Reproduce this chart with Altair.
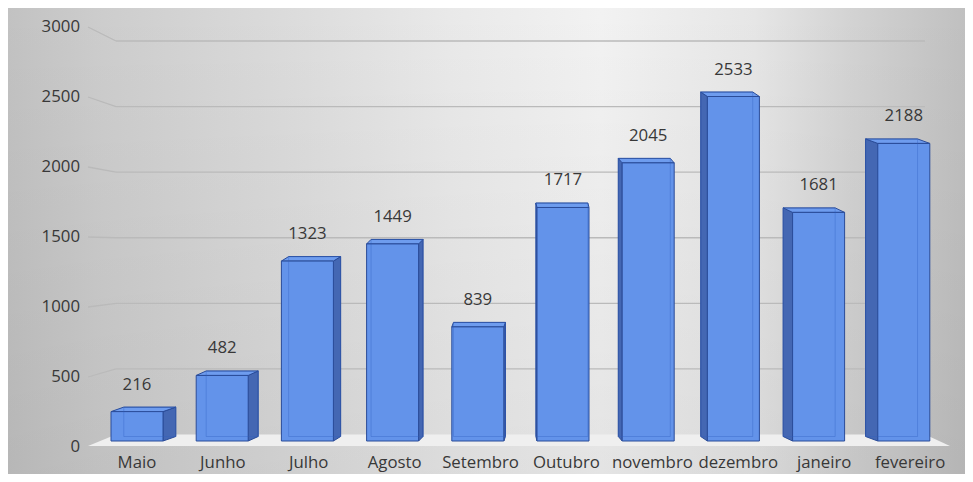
import altair as alt
import pandas as pd

# ---------------- data ----------------
months = ["Maio", "Junho", "Julho", "Agosto", "Setembro", "Outubro",
          "novembro", "dezembro", "janeiro", "fevereiro"]
values = [216, 482, 1323, 1449, 839, 1717, 2045, 2533, 1681, 2188]
y_ticks = [0, 500, 1000, 1500, 2000, 2500, 3000]

# ---------------- layout / style ----------------
PAD_L, PAD_R, PAD_T, PAD_B = 86.4, 18.6, 0, 0
W, H = 852, 466
PX_PER_CAT = W / 10
X_DOM = [-0.5, 9.5]
Y_DOM = [0, 3000]
FRONT_Y = [433, 25]      # front faces of the 3-D bars
GRID_Y = [426.5, 33]     # back wall
LABEL_Y = [439, 19]      # tick labels
LABEL_X = [-0.4, 858.6]  # category labels along the floor front edge
BAR_PX = 52
DEPTH_PX = 4.5
PERSP_PX = 2.78          # horizontal depth shift per category from vanishing point
VANISH = 4.6
FONT = "Open Sans"
FS = 16.8
TXT = "#383838"

FRONT_FILL = "#6393EA"
SIDE_FILL = "#4467B3"
TOP_FILL = "#6E9CEE"
EDGE = "#2A4C99"


def xunit(px):
    return px / PX_PER_CAT - 0.5


def grid_px(v):
    return GRID_Y[0] + (GRID_Y[1] - GRID_Y[0]) * v / Y_DOM[1]


def label_val(px):
    return (px - LABEL_Y[0]) / (LABEL_Y[1] - LABEL_Y[0]) * Y_DOM[1]


def grid_val(px):
    return (px - GRID_Y[0]) / (GRID_Y[1] - GRID_Y[0]) * Y_DOM[1]


half = BAR_PX / 2 / PX_PER_CAT
depth = DEPTH_PX / ((FRONT_Y[0] - FRONT_Y[1]) / Y_DOM[1])

bars = pd.DataFrame({"mes": months, "valor": values, "i": range(len(months))})
bars["left"] = bars["i"] - half
bars["right"] = bars["i"] + half
bars["dx"] = PERSP_PX * (VANISH - bars["i"]) / PX_PER_CAT
bars["bl"] = bars["left"] + bars["dx"]
bars["br"] = bars["right"] + bars["dx"]
bars["bb"] = depth
bars["bt"] = bars["valor"] + depth

side_rows, top_rows = [], []
for _, r in bars.iterrows():
    edge = r["right"] if r["dx"] >= 0 else r["left"]
    side_rows.append({"mes": r["mes"], "x": edge, "lo": 0, "hi": r["valor"]})
    side_rows.append({"mes": r["mes"], "x": edge + r["dx"], "lo": depth, "hi": r["valor"] + depth})
    top_rows.append({"mes": r["mes"], "y": r["valor"], "x": r["left"], "x2": r["right"]})
    top_rows.append({"mes": r["mes"], "y": r["valor"] + depth, "x": r["bl"], "x2": r["br"]})
side = pd.DataFrame(side_rows)
top = pd.DataFrame(top_rows)

ticks = pd.DataFrame({"t": y_ticks})
conn = pd.DataFrame({"t": y_ticks[1:]})
conn["t2"] = [label_val(grid_px(t)) for t in conn["t"]]

floor = pd.DataFrame({
    "y": [0, grid_val(438)],
    "x": [xunit(21.6), xunit(-6.4)],
    "x2": [xunit(830.6), xunit(855.6)],
})

one = pd.DataFrame({"k": [0]})

xf = alt.Scale(domain=X_DOM, range=[0, W])
xl = alt.Scale(domain=X_DOM, range=LABEL_X)
yf = alt.Scale(domain=Y_DOM, range=FRONT_Y)
yg = alt.Scale(domain=Y_DOM, range=GRID_Y)
yl = alt.Scale(domain=Y_DOM, range=LABEL_Y)

# ---------------- layers ----------------
bg = alt.Chart(one).mark_rect(
    fill=alt.Gradient(
        gradient="linear", x1=0, y1=0, x2=1, y2=0,
        stops=[
            alt.GradientStop(color="#c2c2c2", offset=0),
            alt.GradientStop(color="#cdcdcd", offset=0.1),
            alt.GradientStop(color="#dcdcdc", offset=0.3),
            alt.GradientStop(color="#e9e9e9", offset=0.46),
            alt.GradientStop(color="#f2f2f2", offset=0.62),
            alt.GradientStop(color="#e6e6e6", offset=0.78),
            alt.GradientStop(color="#d3d3d3", offset=0.88),
            alt.GradientStop(color="#c0c0c0", offset=1),
        ],
    )
).encode(x=alt.value(-PAD_L), x2=alt.value(W + PAD_R), y=alt.value(0), y2=alt.value(H))

shade = alt.Chart(one).mark_rect(
    fill=alt.Gradient(
        gradient="linear", x1=0, y1=0, x2=0, y2=1,
        stops=[
            alt.GradientStop(color="rgba(0,0,0,0)", offset=0),
            alt.GradientStop(color="rgba(0,0,0,0.06)", offset=1),
        ],
    )
).encode(x=alt.value(-PAD_L), x2=alt.value(W + PAD_R), y=alt.value(0), y2=alt.value(H))

grid = alt.Chart(conn).mark_rule(color="#bababa", strokeWidth=1.3).encode(
    x=alt.value(21.6), x2=alt.value(830.6),
    y=alt.Y("t:Q", scale=yg, axis=None),
)

connectors = alt.Chart(conn).mark_rule(color="#bababa", strokeWidth=1.3).encode(
    x=alt.value(-6.4), x2=alt.value(21.6),
    y=alt.Y("t:Q", scale=yl, axis=None),
    y2="t2:Q",
)

floor_l = alt.Chart(floor).mark_area(orient="horizontal", color="#efefef").encode(
    y=alt.Y("y:Q", scale=yg, axis=None),
    x=alt.X("x:Q", scale=xf, axis=None),
    x2="x2:Q",
)

side_l = alt.Chart(side).mark_area(
    color=SIDE_FILL, stroke=EDGE, strokeWidth=1, opacity=1
).encode(
    x=alt.X("x:Q", scale=xf, axis=None),
    y=alt.Y("hi:Q", scale=yf, axis=None),
    y2="lo:Q",
    detail="mes:N",
)

top_l = alt.Chart(top).mark_area(
    orient="horizontal", color=TOP_FILL, stroke=EDGE, strokeWidth=1
).encode(
    y=alt.Y("y:Q", scale=yf, axis=None),
    x=alt.X("x:Q", scale=xf, axis=None),
    x2="x2:Q",
    detail="mes:N",
)

front = alt.Chart(bars).mark_rect(
    fill=FRONT_FILL, stroke=EDGE, strokeWidth=1
).encode(
    x=alt.X("left:Q", scale=xf, axis=None),
    x2="right:Q",
    y=alt.Y("valor:Q", scale=yf, axis=None),
    y2=alt.datum(0),
)

back_edges = alt.Chart(bars).mark_rect(
    fillOpacity=0, stroke="#2f5fbf", strokeWidth=1, strokeOpacity=0.35
).encode(
    x=alt.X("bl:Q", scale=xf, axis=None),
    x2="br:Q",
    y=alt.Y("bt:Q", scale=yf, axis=None),
    y2="bb:Q",
)

val_text = alt.Chart(bars).mark_text(
    font=FONT, fontSize=FS, color=TXT, baseline="middle", dy=-27
).encode(
    x=alt.X("i:Q", scale=xf, axis=None),
    y=alt.Y("valor:Q", scale=yf, axis=None),
    text="valor:Q",
)

cat_text = alt.Chart(bars).mark_text(
    font=FONT, fontSize=FS, color=TXT, baseline="middle"
).encode(
    x=alt.X("i:Q", scale=xl, axis=None),
    y=alt.value(455),
    text="mes:N",
)

tick_text = alt.Chart(ticks).mark_text(
    font=FONT, fontSize=FS, color=TXT, align="right", baseline="middle"
).encode(
    x=alt.value(-14.4),
    y=alt.Y("t:Q", scale=yl, axis=None),
    text="t:Q",
)

chart = alt.layer(
    bg, shade, grid, connectors, floor_l,
    side_l, top_l, front, back_edges,
    val_text, cat_text, tick_text,
).resolve_scale(
    x="independent", y="independent"
).properties(
    width=W, height=H,
    padding={"left": PAD_L, "right": PAD_R, "top": PAD_T, "bottom": PAD_B},
    autosize=alt.AutoSizeParams(type="none"),
).configure_view(strokeWidth=0)

chart.save("out.html", embed_options={"renderer": "svg", "actions": False})
